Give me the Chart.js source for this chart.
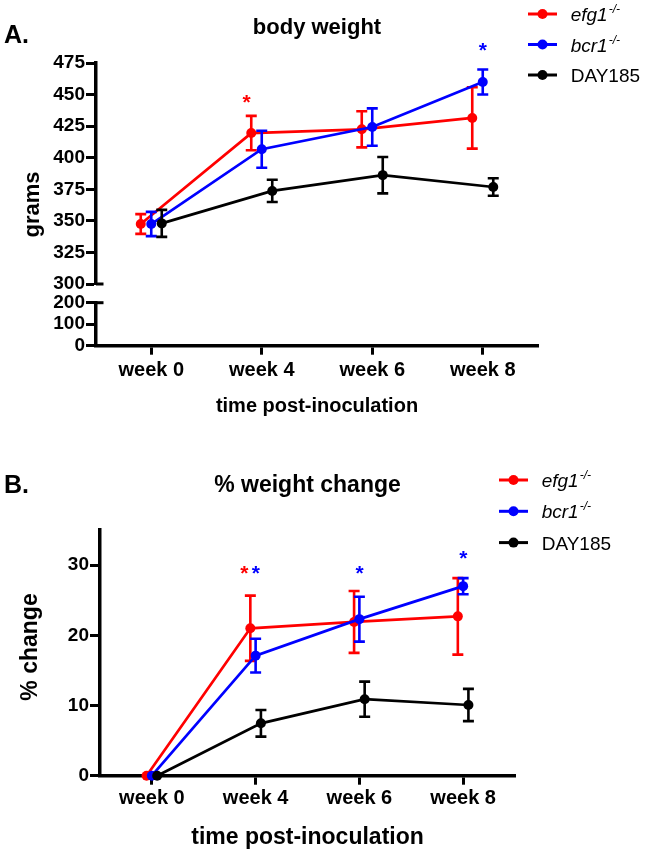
<!DOCTYPE html>
<html><head><meta charset="utf-8">
<script src="https://cdn.jsdelivr.net/npm/chart.js@4.4.1/dist/chart.umd.min.js"></script>
<style>
html,body{margin:0;padding:0;background:#fff;}
#wrap{position:relative;width:646px;height:853px;overflow:hidden;background:#fff;}
canvas{position:absolute;left:0;}
</style></head><body>
<div id="wrap">
<canvas id="a1" width="646" height="430" style="top:0"></canvas>
<canvas id="a2" width="646" height="430" style="top:0"></canvas>
<canvas id="b" width="646" height="423" style="top:430px"></canvas>
</div>
<script>
// ---------- data ----------
const categories = ['week 0', 'week 4', 'week 6', 'week 8'];
const seriesNames = ['efg1', 'bcr1', 'DAY185'];
const seriesSup = ['-/-', '-/-', ''];

// Panel A: body weight (grams), mean and error
const efg1Weight    = [347.5, 419.5, 422.5, 431.5];
const efg1WeightErr = [7.8, 13.6, 14.3, 24.3];
const bcr1Weight    = [347.5, 406.7, 424.3, 460.0];
const bcr1WeightErr = [9.6, 14.7, 14.8, 9.9];
const day185Weight    = [348.0, 373.7, 386.2, 376.8];
const day185WeightErr = [10.7, 8.8, 14.4, 6.9];

// Panel B: % weight change, mean and error
const efg1Pct    = [0, 21.0, 21.9, 22.7];
const efg1PctErr = [0, 4.65, 4.4, 5.45];
const bcr1Pct    = [0, 17.1, 22.3, 27.0];
const bcr1PctErr = [0, 2.4, 3.2, 1.15];
const day185Pct    = [0, 7.46, 10.9, 10.07];
const day185PctErr = [0, 1.9, 2.5, 2.3];

// tick values
const yTicksAUpper = [300, 325, 350, 375, 400, 425, 450, 475];
const yTicksALower = [0, 100, 200];
const yTicksB = [0, 10, 20, 30];

// significance markers: [series, category index, value]
const starsA = [[0, 1, 448], [1, 3, 489]];
const starsB = [[0, 1, 29.6], [1, 1, 29.6], [1, 2, 29.6], [1, 3, 31.7]];

// ---------- styles ----------
const FONT = "'Liberation Sans', Arial, Helvetica, sans-serif";
const colors = ['#ff0000', '#0000ff', '#000000'];
const dodgeA = [-0.095, 0, 0.095];
const dodgeB = [-0.051, 0, 0.051];
const starShiftA = [-0.138, 0, 0];
const starShiftB = [-0.11, 0.003, 0];

function makeDatasets(vals, errs, dodge) {
  return vals.map((v, s) => ({
    label: seriesNames[s],
    data: v.map((y, i) => ({ x: i + dodge[s], y: y })),
    errors: errs[s],
    borderColor: colors[s],
    backgroundColor: colors[s],
    pointBackgroundColor: colors[s],
    pointBorderColor: colors[s],
    pointBorderWidth: 0,
    pointRadius: 5,
    borderWidth: 2.7,
    tension: 0,
    clip: false,
    order: 3 - s
  }));
}

const errorBars = {
  id: 'errorBars',
  afterDatasetDraw(chart, args) {
    const ds = chart.data.datasets[args.index];
    if (!ds.errors) return;
    const ctx = chart.ctx, ys = chart.scales.y;
    ctx.save();
    ctx.strokeStyle = ds.borderColor;
    ctx.lineWidth = 2.6;
    args.meta.data.forEach((pt, i) => {
      const e = ds.errors[i];
      if (!e) return;
      const v = ds.data[i].y;
      const yt = ys.getPixelForValue(v + e), yb = ys.getPixelForValue(v - e);
      ctx.beginPath();
      ctx.moveTo(pt.x, yt); ctx.lineTo(pt.x, yb);
      ctx.moveTo(pt.x - 5.5, yt); ctx.lineTo(pt.x + 5.5, yt);
      ctx.moveTo(pt.x - 5.5, yb); ctx.lineTo(pt.x + 5.5, yb);
      ctx.stroke();
    });
    ctx.restore();
  }
};

const decor = {
  id: 'decor',
  afterDraw(chart, args, o) {
    const ctx = chart.ctx;
    ctx.save();
    ctx.fillStyle = '#000';
    (o.texts || []).forEach(t => {
      ctx.save();
      ctx.font = t.font;
      ctx.textAlign = t.align || 'left';
      ctx.textBaseline = 'alphabetic';
      ctx.translate(t.x, t.y);
      if (t.rotate) ctx.rotate(t.rotate);
      ctx.fillText(t.text, 0, 0);
      ctx.restore();
    });
    if (o.legend) {
      const L = o.legend;
      seriesNames.forEach((name, s) => {
        const y = L.y0 + s * L.dy;
        ctx.strokeStyle = colors[s]; ctx.fillStyle = colors[s];
        ctx.lineWidth = 3;
        ctx.beginPath(); ctx.moveTo(L.lx, y); ctx.lineTo(L.lx + 29, y); ctx.stroke();
        ctx.beginPath(); ctx.arc(L.lx + 14.5, y, 5, 0, Math.PI * 2); ctx.fill();
        ctx.fillStyle = '#000';
        ctx.textAlign = 'left'; ctx.textBaseline = 'alphabetic';
        const it = seriesSup[s] ? 'italic ' : '';
        ctx.font = it + '19px ' + FONT;
        ctx.fillText(name, L.tx, y + 7);
        if (seriesSup[s]) {
          const w = ctx.measureText(name).width;
          ctx.font = 'italic 12px ' + FONT;
          ctx.fillText(seriesSup[s], L.tx + w + 1, y - 1);
        }
      });
    }
    (o.stars || []).forEach(st => {
      const [s, c, v] = st;
      const x = chart.scales.x.getPixelForValue(c + o.starShift[s]);
      const y = chart.scales.y.getPixelForValue(v);
      ctx.fillStyle = colors[s];
      ctx.font = 'bold 21px ' + FONT;
      ctx.textAlign = 'center'; ctx.textBaseline = 'alphabetic';
      ctx.fillText('*', x, y + 12);
    });
    if (o.breakCap) {
      const ys = chart.scales.y;
      const y = ys.getPixelForValue(o.breakCap === 'min' ? ys.min : ys.max);
      ctx.strokeStyle = '#000'; ctx.lineWidth = 3;
      ctx.beginPath(); ctx.moveTo(chart.chartArea.left, y); ctx.lineTo(chart.chartArea.left + 7.5, y); ctx.stroke();
    }
    ctx.restore();
  }
};

function yAxis(min, max, tickVals, width) {
  return {
    type: 'linear', min: min, max: max,
    afterBuildTicks: sc => { sc.ticks = tickVals.map(v => ({ value: v })); },
    afterFit: sc => { sc.width = width; },
    grid: { drawOnChartArea: false, drawTicks: true, tickLength: 10, tickWidth: 3, tickColor: '#000' },
    border: { display: true, width: 3.5, color: '#000' },
    ticks: { color: '#000', padding: 1, autoSkip: false, font: { family: FONT, size: 19, weight: 'bold' } }
  };
}
function xAxis(height, pad, show) {
  return {
    type: 'linear', min: -0.5, max: 3.5, display: show,
    afterBuildTicks: sc => { sc.ticks = categories.map((c, i) => ({ value: i })); },
    afterFit: sc => { sc.height = height; },
    grid: { drawOnChartArea: false, drawTicks: true, tickLength: 9, tickWidth: 3, tickColor: '#000' },
    border: { display: true, width: 3.5, color: '#000' },
    ticks: { color: '#000', padding: pad, maxRotation: 0, autoSkip: false,
      callback: v => categories[v], font: { family: FONT, size: 20, weight: 'bold' } }
  };
}
const common = {
  responsive: false, animation: false, devicePixelRatio: 1,
  plugins: { legend: { display: false }, title: { display: false }, tooltip: { enabled: false } }
};

// Panel A upper part (300-475)
new Chart(document.getElementById('a1'), {
  type: 'line',
  data: { datasets: makeDatasets([efg1Weight, bcr1Weight, day185Weight], [efg1WeightErr, bcr1WeightErr, day185WeightErr], dodgeA) },
  options: Object.assign({}, common, {
    layout: { padding: { top: 63, bottom: 146, left: 0, right: 108 } },
    scales: { x: xAxis(0, 5, false), y: yAxis(300, 475, yTicksAUpper, 96) },
    plugins: Object.assign({}, common.plugins, {
      decor: {
        texts: [
          { text: 'A.', x: 4, y: 43.3, font: 'bold 25px ' + FONT },
          { text: 'body weight', x: 317, y: 34, font: 'bold 22px ' + FONT, align: 'center' },
          { text: 'grams', x: 38.5, y: 204.5, font: 'bold 22px ' + FONT, align: 'center', rotate: -Math.PI / 2 }
        ],
        legend: { y0: 14, dy: 30.5, lx: 528, tx: 570.7 },
        stars: starsA, starShift: starShiftA,
        breakCap: 'min'
      }
    })
  }),
  plugins: [errorBars, decor]
});

// Panel A lower part (0-200) with x axis
new Chart(document.getElementById('a2'), {
  type: 'line',
  data: { datasets: [] },
  options: Object.assign({}, common, {
    layout: { padding: { top: 302.7, bottom: 0, left: 0, right: 108 } },
    scales: { x: xAxis(84.3, 4, true), y: yAxis(0, 200, yTicksALower, 96) },
    plugins: Object.assign({}, common.plugins, {
      decor: {
        texts: [
          { text: 'time post-inoculation', x: 317, y: 411.5, font: 'bold 20px ' + FONT, align: 'center' }
        ],
        breakCap: 'max'
      }
    })
  }),
  plugins: [decor]
});

// Panel B
new Chart(document.getElementById('b'), {
  type: 'line',
  data: { datasets: makeDatasets([efg1Pct, bcr1Pct, day185Pct], [efg1PctErr, bcr1PctErr, day185PctErr], dodgeB) },
  options: Object.assign({}, common, {
    layout: { padding: { top: 100, bottom: 0, left: 0, right: 131 } },
    scales: { x: xAxis(77.3, 2, true), y: yAxis(0, 35, yTicksB, 100) },
    plugins: Object.assign({}, common.plugins, {
      decor: {
        texts: [
          { text: 'B.', x: 4, y: 63.3, font: 'bold 25px ' + FONT },
          { text: '% weight change', x: 307.5, y: 61.5, font: 'bold 23px ' + FONT, align: 'center' },
          { text: '% change', x: 37.3, y: 217, font: 'bold 23px ' + FONT, align: 'center', rotate: -Math.PI / 2 },
          { text: 'time post-inoculation', x: 307.5, y: 414, font: 'bold 23px ' + FONT, align: 'center' }
        ],
        legend: { y0: 50, dy: 31.3, lx: 499, tx: 541.7 },
        stars: starsB, starShift: starShiftB
      }
    })
  }),
  plugins: [errorBars, decor]
});
</script>
</body></html>
